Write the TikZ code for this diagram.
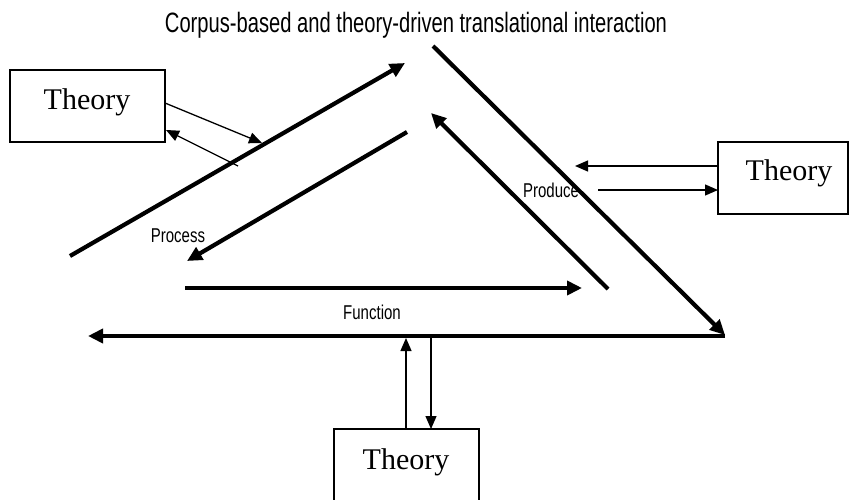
\documentclass[tikz,border=0pt]{standalone}
\usepackage{fontspec}
\setmainfont{Liberation Serif}
\newfontfamily\titlefont[FakeStretch=0.72]{Liberation Sans}
\newfontfamily\condfont[FakeStretch=0.75]{Liberation Sans}
\usetikzlibrary{arrows.meta}
\begin{document}
\begin{tikzpicture}[x=1pt,y=-1pt,
  thickarrow/.style={line width=4.2pt,-{Triangle[length=15pt,width=14pt]}},
  thinarrow/.style={line width=1.3pt,-{Triangle[length=13pt,width=11pt]}},
  theorybox/.style={draw,line width=1.3pt,inner sep=0pt},
  theorytext/.style={inner sep=0pt,font=\fontsize{30}{32}\selectfont},
  lbl/.style={inner sep=0pt,font=\condfont\fontsize{20}{22}\selectfont}]
\useasboundingbox (0,0) rectangle (851,500);
% title
\node[inner sep=0pt,anchor=base,font=\titlefont\fontsize{28}{30}\selectfont] (title) at (416,33) {Corpus-based and theory-driven translational interaction};
% theory boxes
\node[theorybox,minimum width=155pt,minimum height=72pt] (tl) at (87.5,106) {};
\node[theorytext] (tlt) at (87,102) {Theory};
\node[theorybox,minimum width=130pt,minimum height=72pt] (tr) at (783,178) {};
\node[theorytext] (trt) at (789,173) {Theory};
\node[theorybox,minimum width=145pt,minimum height=72pt] (tb) at (406.5,465) {};
\node[theorytext] (tbt) at (406,462) {Theory};
% coordinates of the thick arrows
\coordinate (a1) at (70,256);
\coordinate (a2) at (405,63);
\coordinate (b1) at (407,132);
\coordinate (b2) at (187,261);
\coordinate (c1) at (608,289);
\coordinate (c2) at (431,113);
\coordinate (d1) at (433,46);
\coordinate (d2) at (725,335);
\coordinate (e1) at (185,288);
\coordinate (e2) at (582,288);
\coordinate (f1) at (725,336);
\coordinate (f2) at (88,336);
\draw[thickarrow] (a1) -- (a2);
\draw[thickarrow] (b1) -- (b2);
\draw[thickarrow] (c1) -- (c2);
\draw[thickarrow] (d1) -- (d2);
\draw[thickarrow] (e1) -- (e2);
\draw[thickarrow,line width=4.6pt] (f1) -- (f2);
% labels
\node[lbl] (process) at (178,236) {Process};
\node[lbl] (function) at (372,312) {Function};
\node[lbl] (produce) at (551,190) {Produce};
% thin arrows, left box
\coordinate (l1s) at (165,103);
\coordinate (l1e) at (262,143);
\coordinate (l2s) at (238,166);
\coordinate (l2e) at (166,130);
\draw[thinarrow] (l1s) -- (l1e);
\draw[thinarrow] (l2s) -- (l2e);
% thin arrows, right box
\coordinate (r1s) at (718,166);
\coordinate (r1e) at (575,166);
\coordinate (r2s) at (598,190);
\coordinate (r2e) at (718,190);
\draw[thinarrow] (r1s) -- (r1e);
\draw[thinarrow] (r2s) -- (r2e);
% thin arrows, bottom box
\coordinate (u1s) at (406,429);
\coordinate (u1e) at (406,338);
\coordinate (u2s) at (431,338);
\coordinate (u2e) at (431,429);
\draw[thinarrow] (u1s) -- (u1e);
\draw[thinarrow] (u2s) -- (u2e);
\end{tikzpicture}
\end{document}
